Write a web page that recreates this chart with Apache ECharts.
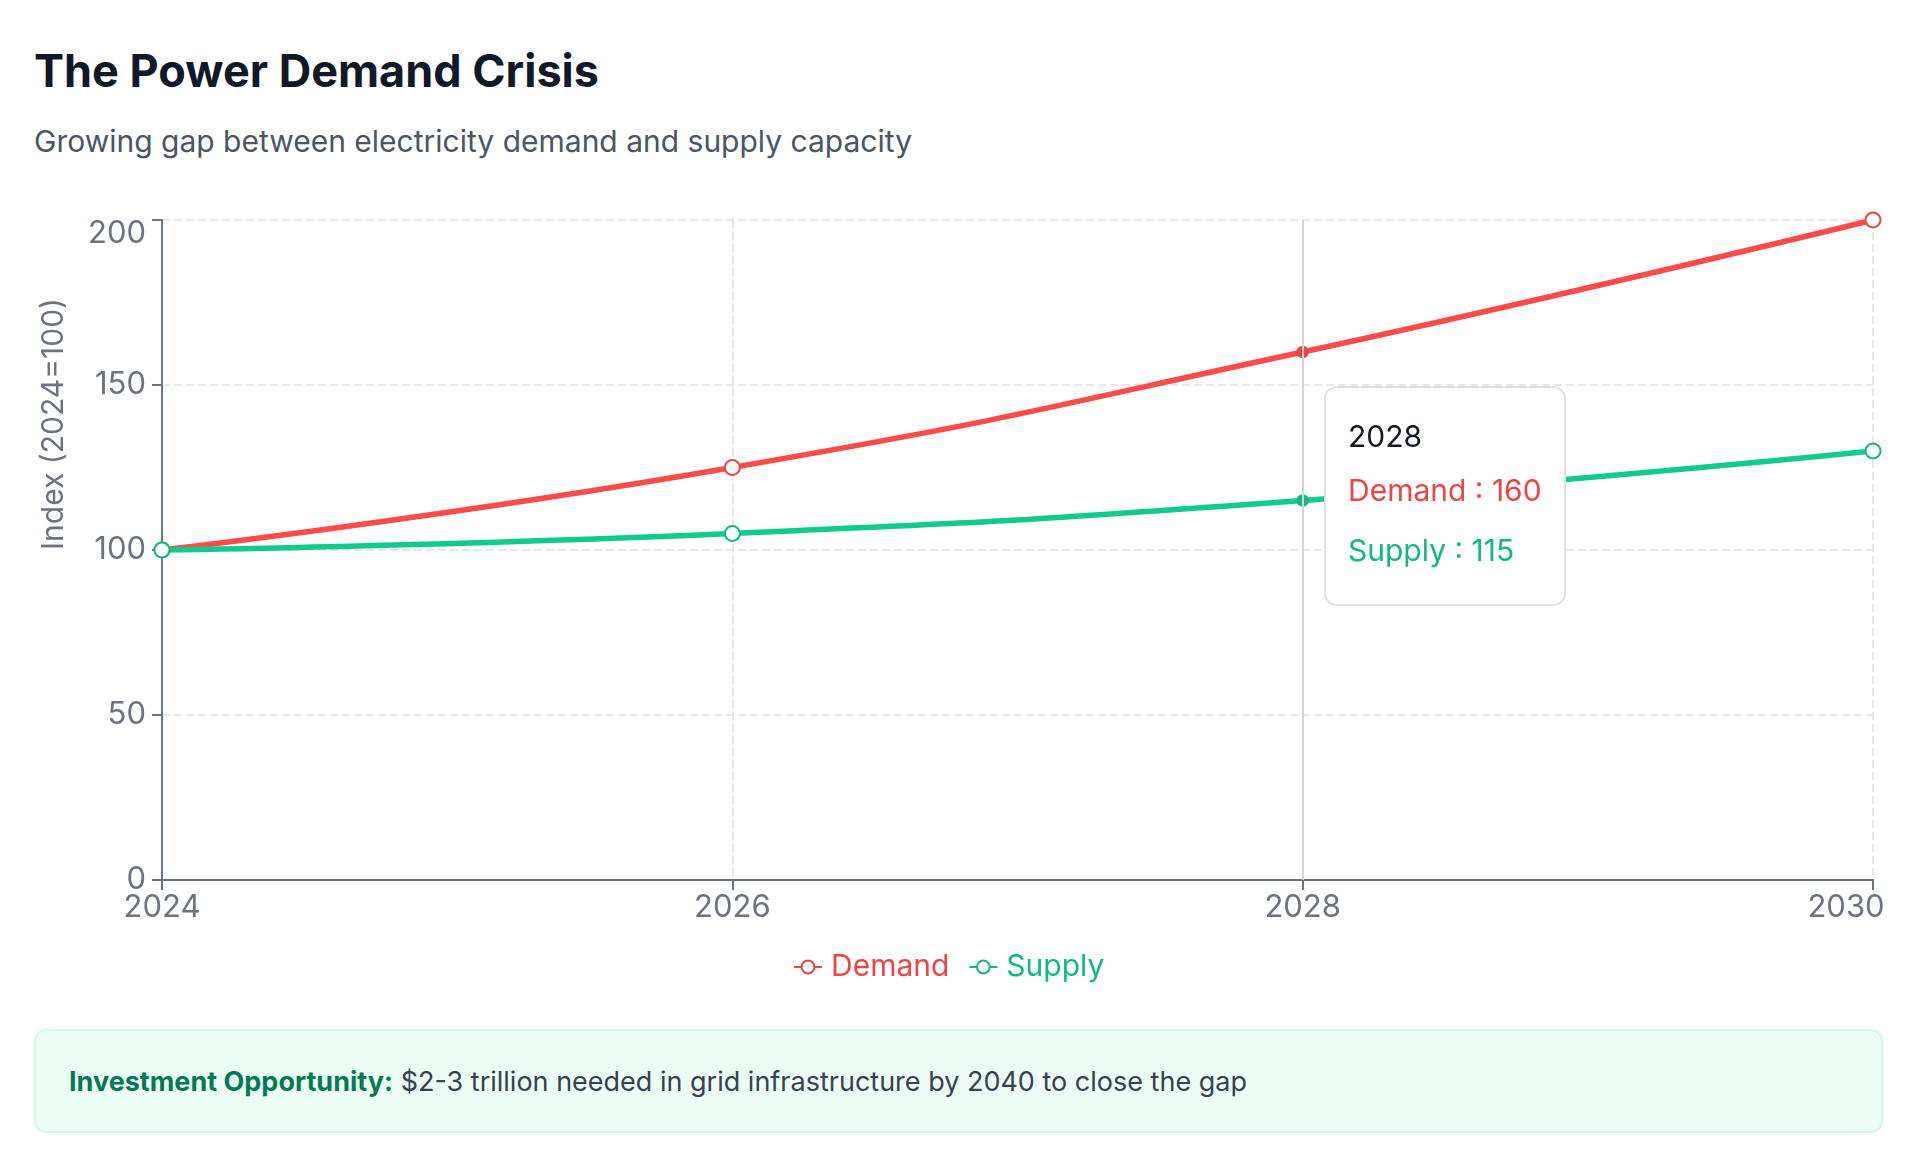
<!DOCTYPE html>
<html><head><meta charset="utf-8">
<script src="https://cdn.jsdelivr.net/npm/echarts@6/dist/echarts.min.js"></script>
<style>
html,body{margin:0;padding:0;background:#fff}
body{font-family:Inter,'Noto Sans',sans-serif;width:1920px;height:1169px;position:relative;overflow:hidden}
#title{position:absolute;left:34px;top:43px;font-size:45px;font-weight:700;color:#111827;line-height:56px;margin:0}
#sub{position:absolute;left:34px;top:123px;font-size:30px;color:#4b5563;line-height:36px}
#chart{position:absolute;left:34px;top:180px;width:1849px;height:830px}
#note{position:absolute;left:34px;top:1029px;width:1849px;height:104px;box-sizing:border-box;background:#ecfdf5;border:2px solid #d1fae5;border-radius:12px;padding-left:33px;display:flex;align-items:center;font-size:27px;color:#374151;white-space:pre}
#note b{color:#047857;font-weight:700}
</style></head>
<body>
<div id="title">The Power Demand Crisis</div>
<div id="sub">Growing gap between electricity demand and supply capacity</div>
<div id="chart"></div>
<div id="note"><b>Investment Opportunity:</b> $2-3 trillion needed in grid infrastructure by 2040 to close the gap</div>
<script>
const years = ['2024', '2026', '2028', '2030'];
const demand = [100, 125, 160, 200];
const supply = [100, 105, 115, 130];
const yTicks = [0, 50, 100, 150, 200];
const seriesNames = ['Demand', 'Supply'];
const seriesColors = ['#ef4444', '#10b981'];
const tipIndex = 2;

const chart = echarts.init(document.getElementById('chart'), null, {renderer: 'canvas'});
const axisGray = '#6b7280';
function mkSeries(name, data, color) {
  return {
    name: name, type: 'line', data: data, smooth: true,
    symbol: 'emptyCircle', symbolSize: 15,
    lineStyle: {width: 5.5, color: color},
    itemStyle: {color: color, borderColor: color, borderWidth: 4},
    emphasis: {scale: 0.7, itemStyle: {color: color, borderColor: color}}
  };
}
const yMax = yTicks[yTicks.length - 1];
chart.setOption({
  animation: false,
  textStyle: {fontFamily: 'Inter'},
  grid: {left: 128, right: 10, top: 40, bottom: 130, containLabel: false, outerBoundsMode: 'none'},
  legend: {
    top: 767, left: 754, itemWidth: 28, itemHeight: 16, itemGap: 19,
    textStyle: {fontSize: 30, fontFamily: 'Inter', padding: [0, 0, 0, 4]},
    data: seriesNames.map((n, i) => ({name: n, textStyle: {color: seriesColors[i]}}))
  },
  tooltip: {
    trigger: 'axis', alwaysShowContent: true, triggerOn: 'none',
    axisPointer: {type: 'line', lineStyle: {color: '#d1d5db', width: 2, type: 'solid'}},
    backgroundColor: '#ffffff', borderColor: '#dfe1e6', borderWidth: 2.5, padding: [21, 22],
    extraCssText: 'border-radius:13px;box-shadow:none;',
    position: function () {
      const x = chart.convertToPixel({xAxisIndex: 0}, years[tipIndex]);
      return [x + 21, 206];
    },
    formatter: function (params) {
      let h = '<div style="font-family:Inter;font-size:30px;color:#111827;line-height:54px">' + params[0].axisValue + '</div>';
      params.forEach((p, i) => {
        h += '<div style="font-family:Inter;font-size:30px;line-height:' + (i === 0 ? 54 : 66) + 'px;color:' + seriesColors[p.seriesIndex] + '">' + p.seriesName + ' : ' + p.value + '</div>';
      });
      return h;
    }
  },
  xAxis: {
    type: 'category', data: years, boundaryGap: false,
    axisLine: {lineStyle: {color: axisGray, width: 2}},
    axisTick: {show: true, length: 10, lineStyle: {color: axisGray, width: 2}},
    axisLabel: {
      fontSize: 31, color: axisGray, margin: 12, fontFamily: 'Inter',
      formatter: function (v, i) { return i === years.length - 1 ? '{last|' + v + '}' : v; },
      rich: {last: {fontSize: 31, color: axisGray, fontFamily: 'Inter', padding: [0, 54, 0, 0]}}
    },
    splitLine: {show: true, lineStyle: {color: '#e5e7eb', type: 'dashed', width: 2}}
  },
  yAxis: {
    type: 'value', min: yTicks[0], max: yMax, interval: yTicks[1] - yTicks[0],
    name: 'Index (2024=100)', nameLocation: 'middle', nameRotate: 90, nameGap: 93,
    nameTextStyle: {fontSize: 30, color: axisGray, align: 'left', fontFamily: 'Inter'},
    axisLine: {show: true, lineStyle: {color: axisGray, width: 2}},
    axisTick: {show: true, length: 10, lineStyle: {color: axisGray, width: 2}},
    axisLabel: {
      fontSize: 31, color: axisGray, margin: 16, fontFamily: 'Inter',
      formatter: function (v) { return v === yMax ? '{top|' + v + '}' : String(v); },
      rich: {top: {fontSize: 31, color: axisGray, fontFamily: 'Inter', padding: [28, 0, 0, 0]}}
    },
    splitLine: {show: true, lineStyle: {color: '#e5e7eb', type: 'dashed', width: 2}}
  },
  series: [mkSeries(seriesNames[0], demand, seriesColors[0]), mkSeries(seriesNames[1], supply, seriesColors[1])]
});
chart.dispatchAction({type: 'showTip', seriesIndex: 0, dataIndex: tipIndex});
</script>
</body></html>
